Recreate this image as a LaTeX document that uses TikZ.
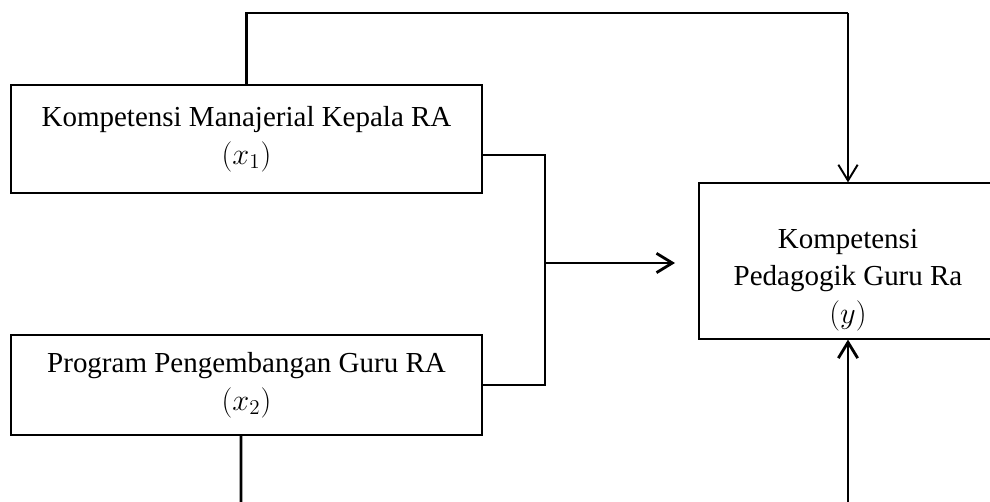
\documentclass[tikz,border=0pt]{standalone}
\usepackage{fontspec}
\setmainfont{Liberation Serif}
\usetikzlibrary{arrows.meta}
\begin{document}
\begin{tikzpicture}[x=0.02cm,y=-0.02cm,
        varbox/.style={draw,line width=0.7pt,align=center,inner sep=0pt,
            font=\fontsize{16.5}{21.5}\selectfont},
        link/.style={line width=1.6pt},
        tip/.style={line width=1.1pt,-{Straight Barb[length=9pt,width=11pt]}}]
        \useasboundingbox (0,0) rectangle (990,502);
        \clip (0,0) rectangle (990,502);
        % variabel bebas
        \node[varbox,minimum width=9.42cm,minimum height=2.16cm] (x1) at (246.5,139)
            {Kompetensi Manajerial Kepala RA\\$(x_1)$};
        \node[varbox,minimum width=9.42cm,minimum height=2cm] (x2) at (246.5,385)
            {Program Pengembangan Guru RA\\$(x_2)$};
        % variabel terikat
        \node[varbox,minimum width=5.96cm,minimum height=3.12cm] (y) at (848,261) {};
        \node[align=center,inner sep=0pt,font=\fontsize{16.5}{21.5}\selectfont] (ytext) at (848,280)
            {Kompetensi\\Pedagogik Guru Ra\\$(y)$};
        \coordinate (top) at (848,13);
        \coordinate (join) at (545,263);
        \coordinate (end) at (675,263);
        \coordinate (low) at (241,510);
        \coordinate (lowy) at (848,510);
        % garis hubungan
        \draw[link] (x1.north) |- (top);
        \draw[tip] (top) -- (y.north);
        \draw[link] ([yshift=-0.32cm]x1.east) -| (join) |- (x2.east);
        \draw[link,-{Straight Barb[length=9pt,width=11pt]}] (join) -- (end);
        \draw[link] ([xshift=-0.11cm]x2.south) -- (low);
        \draw[tip,line width=1.6pt] (lowy) -- (y.south);
    \end{tikzpicture}
\end{document}
